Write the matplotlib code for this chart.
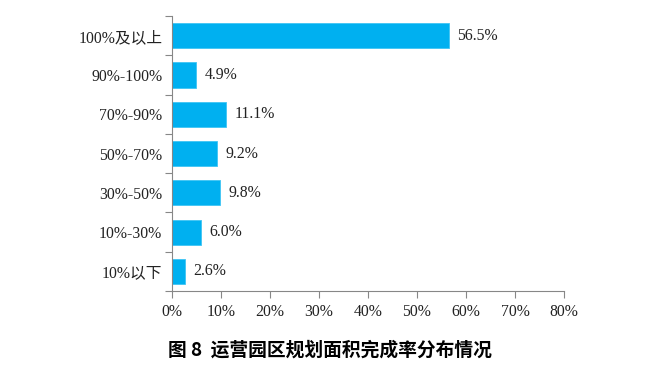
import matplotlib.pyplot as plt
import numpy as np

categories = ['100%及以上', '90%-100%', '70%-90%', '50%-70%', '30%-50%', '10%-30%', '10%以下']
values = [56.5, 4.9, 11.1, 9.2, 9.8, 6.0, 2.6]
xticks = [0, 10, 20, 30, 40, 50, 60, 70, 80]
title = '图 8  运营园区规划面积完成率分布情况'

plt.rcParams['font.family'] = ['Liberation Serif', 'Noto Sans CJK SC']
bar_color = '#00B0F0'
axis_color = '#878787'
fs = 11.3

fig = plt.figure(figsize=(6.6, 3.68), dpi=100)
ax = fig.add_axes([0.2606, 0.2092, 0.5939, 0.7473])

n = len(categories)
ypos = np.arange(n)[::-1]
ax.barh(ypos, values, height=0.64, color=bar_color, edgecolor='#3FC4F4', linewidth=0.6)

for y, v in zip(ypos, values):
    ax.annotate(f'{v:.1f}%', (v, y), xytext=(6, 0), textcoords='offset points',
                va='center', ha='left', fontsize=fs, color='#222222')

ax.set_xlim(0, 80)
ax.set_ylim(-0.5, n - 0.5)
ax.set_xticks(xticks)
ax.set_xticklabels([f'{t}%' for t in xticks], fontsize=fs, color='#222222')
ax.set_yticks(ypos)
ax.set_yticklabels(categories, fontsize=fs, color='#222222')
ax.set_yticks(np.arange(-0.5, n, 1), minor=True)

ax.tick_params(axis='y', which='major', length=0, pad=7)
ax.tick_params(axis='y', which='minor', length=5, color=axis_color, width=0.8)
ax.tick_params(axis='x', length=5, color=axis_color, width=0.8, pad=4)

for s in ['top', 'right']:
    ax.spines[s].set_visible(False)
for s in ['left', 'bottom']:
    ax.spines[s].set_color(axis_color)
    ax.spines[s].set_linewidth(0.8)

fig.text(0.5, 0.048, title, ha='center', va='center', fontsize=13.5, fontweight='bold',
         family=['Noto Sans CJK SC', 'DejaVu Sans'])

fig.savefig('out.png', dpi=100)
